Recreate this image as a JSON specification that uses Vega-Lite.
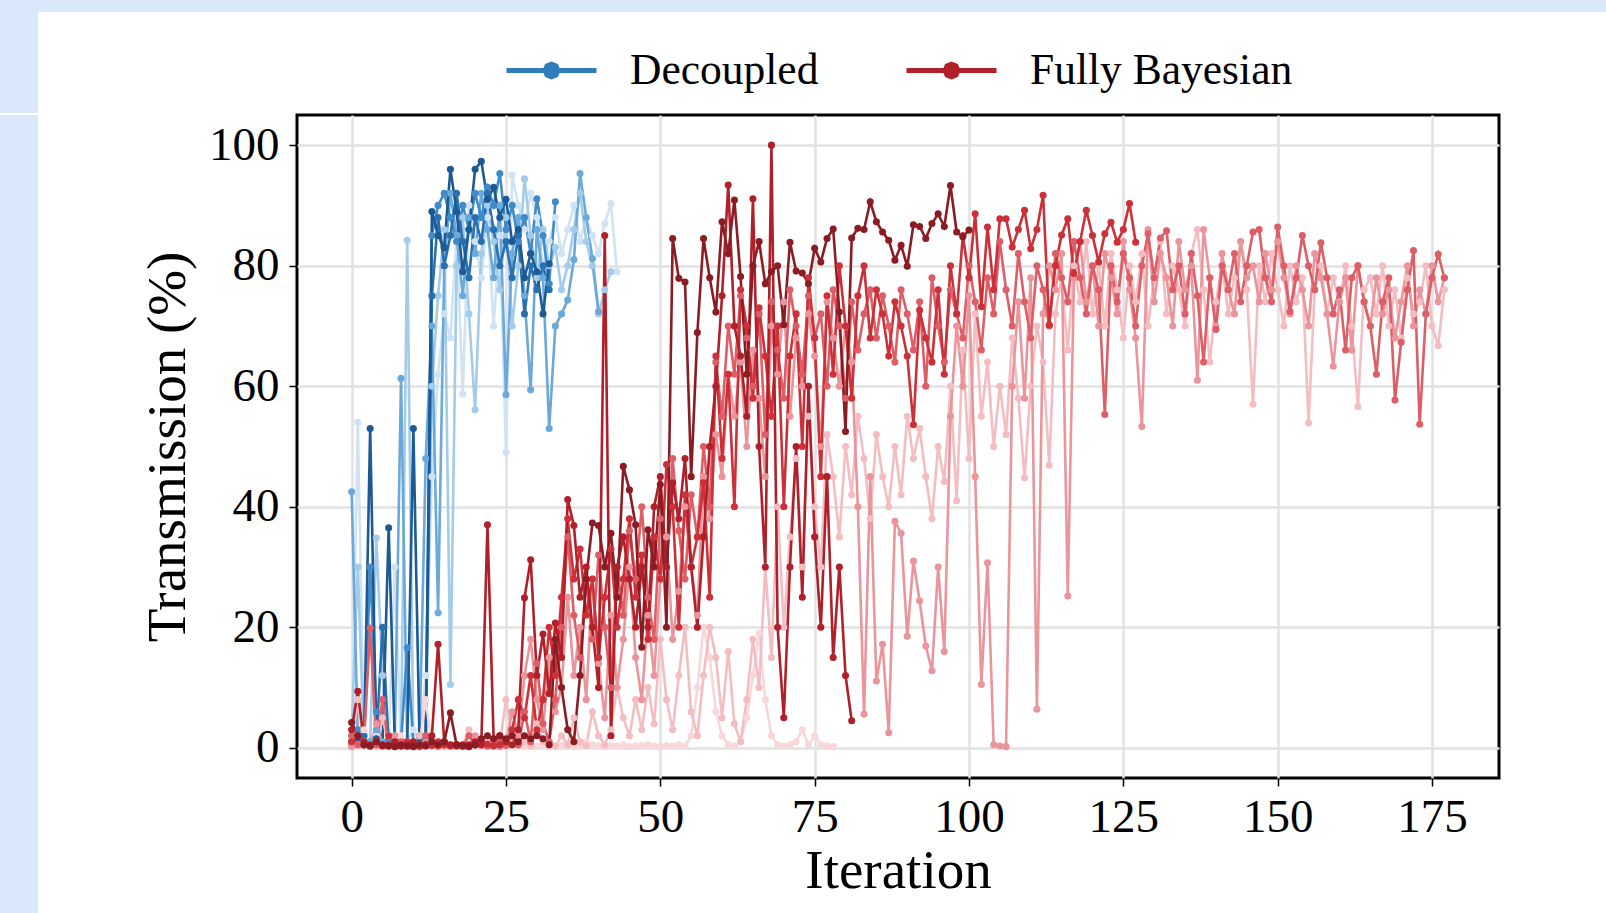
{
"$schema":"https://vega.github.io/schema/vega-lite/v6.json",
"background":"white",
"padding":0,
"autosize":{"type":"pad"},
"spacing":0,
"config":{"font":"Liberation Serif","axis":{"labelFont":"Liberation Serif","titleFont":"Liberation Serif","labelFontSize":47,"titleFontSize":55,"titleFontWeight":"normal","labelColor":"#000","titleColor":"#000","tickColor":"#000","tickWidth":1.5,"tickSize":8,"domain":false,"gridColor":"#e2e2e2","gridWidth":2.5,"labelOverlap":false,"labelFlush":false}},
"vconcat":[
{"spacing":0,"hconcat":[
{"width":38,"height":113,"data":{"values":[]},"mark":"point","view":{"fill":"#dae8fc","stroke":null}},
{"width":1568,"height":12,"data":{"values":[]},"mark":"point","view":{"fill":"#dae8fc","stroke":null}}
]},
{"spacing":101,"hconcat":[
{"width":38,"height":800,"data":{"values":[]},"mark":"point","view":{"fill":"#dae8fc","stroke":null}},
{"width":1202,"height":663,"view":{"stroke":"black","strokeWidth":3,"fill":"white"},
"data":{"values":[
{"run":"D1","it":0,"v":0.5},{"run":"D1","it":1,"v":54},{"run":"D1","it":2,"v":1},{"run":"D1","it":3,"v":0.5},{"run":"D1","it":4,"v":2},{"run":"D1","it":5,"v":0.3},{"run":"D1","it":6,"v":1},{"run":"D1","it":7,"v":30},{"run":"D1","it":8,"v":0.5},{"run":"D1","it":9,"v":1},{"run":"D1","it":10,"v":3},{"run":"D1","it":11,"v":0.5},{"run":"D1","it":12,"v":12},{"run":"D1","it":13,"v":45},{"run":"D1","it":14,"v":62},{"run":"D1","it":15,"v":72},{"run":"D1","it":16,"v":68},{"run":"D1","it":17,"v":85},{"run":"D1","it":18,"v":58.7},{"run":"D1","it":19,"v":90},{"run":"D1","it":20,"v":84},{"run":"D1","it":21,"v":78},{"run":"D1","it":22,"v":88},{"run":"D1","it":23,"v":70},{"run":"D1","it":24,"v":85},{"run":"D1","it":25,"v":49},{"run":"D1","it":26,"v":95},{"run":"D1","it":27,"v":90},{"run":"D1","it":28,"v":86},{"run":"D1","it":29,"v":92},{"run":"D1","it":30,"v":88},{"run":"D1","it":31,"v":80},{"run":"D1","it":32,"v":84},{"run":"D1","it":33,"v":88},{"run":"D1","it":34,"v":82},{"run":"D1","it":35,"v":86},{"run":"D1","it":36,"v":90},{"run":"D1","it":37,"v":84},{"run":"D1","it":38,"v":88},{"run":"D1","it":39,"v":85},{"run":"D1","it":40,"v":82},{"run":"D1","it":41,"v":87},{"run":"D1","it":42,"v":90.3},{"run":"D1","it":43,"v":79},
{"run":"D2","it":0,"v":2},{"run":"D2","it":1,"v":30},{"run":"D2","it":2,"v":0.5},{"run":"D2","it":3,"v":1},{"run":"D2","it":4,"v":34.8},{"run":"D2","it":5,"v":12},{"run":"D2","it":6,"v":2},{"run":"D2","it":7,"v":0.5},{"run":"D2","it":8,"v":1},{"run":"D2","it":9,"v":84.2},{"run":"D2","it":10,"v":0.5},{"run":"D2","it":11,"v":2},{"run":"D2","it":12,"v":1},{"run":"D2","it":13,"v":60},{"run":"D2","it":14,"v":75},{"run":"D2","it":15,"v":86},{"run":"D2","it":16,"v":10.5},{"run":"D2","it":17,"v":80},{"run":"D2","it":18,"v":88},{"run":"D2","it":19,"v":72},{"run":"D2","it":20,"v":56.1},{"run":"D2","it":21,"v":82},{"run":"D2","it":22,"v":90},{"run":"D2","it":23,"v":84},{"run":"D2","it":24,"v":76},{"run":"D2","it":25,"v":88},{"run":"D2","it":26,"v":70},{"run":"D2","it":27,"v":80},{"run":"D2","it":28,"v":94.4},{"run":"D2","it":29,"v":85},{"run":"D2","it":30,"v":78},{"run":"D2","it":31,"v":86},{"run":"D2","it":32,"v":80},{"run":"D2","it":33,"v":83},{"run":"D2","it":34,"v":76},{"run":"D2","it":35,"v":80},{"run":"D2","it":36,"v":86},{"run":"D2","it":37,"v":92},{"run":"D2","it":38,"v":84},{"run":"D2","it":39,"v":80},{"run":"D2","it":40,"v":72},{"run":"D2","it":41,"v":76},{"run":"D2","it":42,"v":79},
{"run":"D3","it":0,"v":42.5},{"run":"D3","it":1,"v":2},{"run":"D3","it":2,"v":0.5},{"run":"D3","it":3,"v":1},{"run":"D3","it":4,"v":3},{"run":"D3","it":5,"v":1},{"run":"D3","it":6,"v":0.5},{"run":"D3","it":7,"v":2},{"run":"D3","it":8,"v":61.3},{"run":"D3","it":9,"v":1},{"run":"D3","it":10,"v":0.5},{"run":"D3","it":11,"v":1},{"run":"D3","it":12,"v":48},{"run":"D3","it":13,"v":70},{"run":"D3","it":14,"v":22.4},{"run":"D3","it":15,"v":80},{"run":"D3","it":16,"v":92},{"run":"D3","it":17,"v":85},{"run":"D3","it":18,"v":75},{"run":"D3","it":19,"v":88},{"run":"D3","it":20,"v":82},{"run":"D3","it":21,"v":92},{"run":"D3","it":22,"v":86},{"run":"D3","it":23,"v":78},{"run":"D3","it":24,"v":90},{"run":"D3","it":25,"v":58.6},{"run":"D3","it":26,"v":82},{"run":"D3","it":27,"v":88},{"run":"D3","it":28,"v":75},{"run":"D3","it":29,"v":59.4},{"run":"D3","it":30,"v":86},{"run":"D3","it":31,"v":78},{"run":"D3","it":32,"v":53},{"run":"D3","it":33,"v":70},{"run":"D3","it":34,"v":72},{"run":"D3","it":35,"v":74.3},{"run":"D3","it":36,"v":81},{"run":"D3","it":37,"v":95.3},{"run":"D3","it":38,"v":88},{"run":"D3","it":39,"v":81.2},{"run":"D3","it":40,"v":72.4},
{"run":"D4","it":0,"v":1},{"run":"D4","it":1,"v":3},{"run":"D4","it":2,"v":0.5},{"run":"D4","it":3,"v":30},{"run":"D4","it":4,"v":6},{"run":"D4","it":5,"v":0.4},{"run":"D4","it":6,"v":1},{"run":"D4","it":7,"v":0.6},{"run":"D4","it":8,"v":0.8},{"run":"D4","it":9,"v":16.6},{"run":"D4","it":10,"v":0.5},{"run":"D4","it":11,"v":1},{"run":"D4","it":12,"v":2},{"run":"D4","it":13,"v":85},{"run":"D4","it":14,"v":90},{"run":"D4","it":15,"v":92},{"run":"D4","it":16,"v":88},{"run":"D4","it":17,"v":84},{"run":"D4","it":18,"v":90},{"run":"D4","it":19,"v":86},{"run":"D4","it":20,"v":92},{"run":"D4","it":21,"v":88},{"run":"D4","it":22,"v":93},{"run":"D4","it":23,"v":90},{"run":"D4","it":24,"v":95.3},{"run":"D4","it":25,"v":86},{"run":"D4","it":26,"v":90},{"run":"D4","it":27,"v":84},{"run":"D4","it":28,"v":88},{"run":"D4","it":29,"v":82},{"run":"D4","it":30,"v":91.1},{"run":"D4","it":31,"v":85},{"run":"D4","it":32,"v":77},{"run":"D4","it":33,"v":90.6},
{"run":"D5","it":0,"v":0.5},{"run":"D5","it":1,"v":1},{"run":"D5","it":2,"v":2},{"run":"D5","it":3,"v":0.5},{"run":"D5","it":4,"v":1},{"run":"D5","it":5,"v":20},{"run":"D5","it":6,"v":0.5},{"run":"D5","it":7,"v":1},{"run":"D5","it":8,"v":0.3},{"run":"D5","it":9,"v":1},{"run":"D5","it":10,"v":0.5},{"run":"D5","it":11,"v":2},{"run":"D5","it":12,"v":1},{"run":"D5","it":13,"v":75},{"run":"D5","it":14,"v":88},{"run":"D5","it":15,"v":80},{"run":"D5","it":16,"v":85},{"run":"D5","it":17,"v":92},{"run":"D5","it":18,"v":84},{"run":"D5","it":19,"v":78},{"run":"D5","it":20,"v":88},{"run":"D5","it":21,"v":84},{"run":"D5","it":22,"v":92},{"run":"D5","it":23,"v":86},{"run":"D5","it":24,"v":80},{"run":"D5","it":25,"v":84},{"run":"D5","it":26,"v":78},{"run":"D5","it":27,"v":85},{"run":"D5","it":28,"v":72},{"run":"D5","it":29,"v":80},{"run":"D5","it":30,"v":76},{"run":"D5","it":31,"v":80},{"run":"D5","it":32,"v":76},
{"run":"D6","it":0,"v":0.5},{"run":"D6","it":1,"v":1},{"run":"D6","it":2,"v":0.5},{"run":"D6","it":3,"v":53},{"run":"D6","it":4,"v":1.5},{"run":"D6","it":5,"v":0.3},{"run":"D6","it":6,"v":36.5},{"run":"D6","it":7,"v":0.5},{"run":"D6","it":8,"v":1},{"run":"D6","it":9,"v":0.4},{"run":"D6","it":10,"v":53},{"run":"D6","it":11,"v":0.8},{"run":"D6","it":12,"v":1.5},{"run":"D6","it":13,"v":89},{"run":"D6","it":14,"v":85},{"run":"D6","it":15,"v":83},{"run":"D6","it":16,"v":96},{"run":"D6","it":17,"v":89},{"run":"D6","it":18,"v":79},{"run":"D6","it":19,"v":86},{"run":"D6","it":20,"v":96},{"run":"D6","it":21,"v":97.3},{"run":"D6","it":22,"v":91},{"run":"D6","it":23,"v":93},{"run":"D6","it":24,"v":88},{"run":"D6","it":25,"v":91},{"run":"D6","it":26,"v":84},{"run":"D6","it":27,"v":86},{"run":"D6","it":28,"v":78},{"run":"D6","it":29,"v":82},{"run":"D6","it":30,"v":79},{"run":"D6","it":31,"v":72},{"run":"D6","it":32,"v":80.3},
{"run":"F1","it":0,"v":0.3},{"run":"F1","it":1,"v":0.5},{"run":"F1","it":2,"v":3},{"run":"F1","it":3,"v":0.5},{"run":"F1","it":4,"v":1},{"run":"F1","it":5,"v":0.2},{"run":"F1","it":6,"v":0.5},{"run":"F1","it":7,"v":0.3},{"run":"F1","it":8,"v":2},{"run":"F1","it":9,"v":0.4},{"run":"F1","it":10,"v":0.2},{"run":"F1","it":11,"v":0.5},{"run":"F1","it":12,"v":8},{"run":"F1","it":13,"v":0.3},{"run":"F1","it":14,"v":0.5},{"run":"F1","it":15,"v":0.2},{"run":"F1","it":16,"v":0.4},{"run":"F1","it":17,"v":0.3},{"run":"F1","it":18,"v":0.5},{"run":"F1","it":19,"v":0.2},{"run":"F1","it":20,"v":0.3},{"run":"F1","it":21,"v":0.5},{"run":"F1","it":22,"v":0.2},{"run":"F1","it":23,"v":0.4},{"run":"F1","it":24,"v":0.3},{"run":"F1","it":25,"v":0.2},{"run":"F1","it":26,"v":0.5},{"run":"F1","it":27,"v":0.3},{"run":"F1","it":28,"v":0.2},{"run":"F1","it":29,"v":0.4},{"run":"F1","it":30,"v":0.3},{"run":"F1","it":31,"v":0.5},{"run":"F1","it":32,"v":0.2},{"run":"F1","it":33,"v":0.3},{"run":"F1","it":34,"v":0.5},{"run":"F1","it":35,"v":0.4},{"run":"F1","it":36,"v":0.2},{"run":"F1","it":37,"v":0.3},{"run":"F1","it":38,"v":1},{"run":"F1","it":39,"v":0.5},{"run":"F1","it":40,"v":0.3},{"run":"F1","it":41,"v":0.2},{"run":"F1","it":42,"v":0.4},{"run":"F1","it":43,"v":0.3},{"run":"F1","it":44,"v":0.5},{"run":"F1","it":45,"v":0.2},{"run":"F1","it":46,"v":0.3},{"run":"F1","it":47,"v":0.4},{"run":"F1","it":48,"v":0.5},{"run":"F1","it":49,"v":0.3},{"run":"F1","it":50,"v":0.2},{"run":"F1","it":51,"v":0.4},{"run":"F1","it":52,"v":0.3},{"run":"F1","it":53,"v":0.5},{"run":"F1","it":54,"v":0.3},{"run":"F1","it":55,"v":2},{"run":"F1","it":56,"v":10},{"run":"F1","it":57,"v":20},{"run":"F1","it":58,"v":15},{"run":"F1","it":59,"v":6},{"run":"F1","it":60,"v":2},{"run":"F1","it":61,"v":0.5},{"run":"F1","it":62,"v":0.3},{"run":"F1","it":63,"v":1},{"run":"F1","it":64,"v":5},{"run":"F1","it":65,"v":12},{"run":"F1","it":66,"v":19},{"run":"F1","it":67,"v":8},{"run":"F1","it":68,"v":2},{"run":"F1","it":69,"v":0.5},{"run":"F1","it":70,"v":0.3},{"run":"F1","it":71,"v":0.5},{"run":"F1","it":72,"v":1},{"run":"F1","it":73,"v":3},{"run":"F1","it":74,"v":0.5},{"run":"F1","it":75,"v":2},{"run":"F1","it":76,"v":0.5},{"run":"F1","it":77,"v":0.3},{"run":"F1","it":78,"v":0.2},
{"run":"F2","it":0,"v":0.5},{"run":"F2","it":1,"v":8},{"run":"F2","it":2,"v":0.3},{"run":"F2","it":3,"v":0.5},{"run":"F2","it":4,"v":0.2},{"run":"F2","it":5,"v":5},{"run":"F2","it":6,"v":0.3},{"run":"F2","it":7,"v":0.5},{"run":"F2","it":8,"v":0.2},{"run":"F2","it":9,"v":1},{"run":"F2","it":10,"v":0.3},{"run":"F2","it":11,"v":2},{"run":"F2","it":12,"v":0.4},{"run":"F2","it":13,"v":0.5},{"run":"F2","it":14,"v":0.3},{"run":"F2","it":15,"v":0.2},{"run":"F2","it":16,"v":0.5},{"run":"F2","it":17,"v":0.3},{"run":"F2","it":18,"v":0.4},{"run":"F2","it":19,"v":3},{"run":"F2","it":20,"v":0.5},{"run":"F2","it":21,"v":0.3},{"run":"F2","it":22,"v":1},{"run":"F2","it":23,"v":0.4},{"run":"F2","it":24,"v":0.5},{"run":"F2","it":25,"v":8},{"run":"F2","it":26,"v":2},{"run":"F2","it":27,"v":0.5},{"run":"F2","it":28,"v":1},{"run":"F2","it":29,"v":0.3},{"run":"F2","it":30,"v":4},{"run":"F2","it":31,"v":1},{"run":"F2","it":32,"v":0.5},{"run":"F2","it":33,"v":0.3},{"run":"F2","it":34,"v":2},{"run":"F2","it":35,"v":0.5},{"run":"F2","it":36,"v":5},{"run":"F2","it":37,"v":1},{"run":"F2","it":38,"v":0.4},{"run":"F2","it":39,"v":6},{"run":"F2","it":40,"v":2},{"run":"F2","it":41,"v":0.5},{"run":"F2","it":42,"v":3},{"run":"F2","it":43,"v":10},{"run":"F2","it":44,"v":5},{"run":"F2","it":45,"v":2},{"run":"F2","it":46,"v":8},{"run":"F2","it":47,"v":3},{"run":"F2","it":48,"v":10},{"run":"F2","it":49,"v":4},{"run":"F2","it":50,"v":18},{"run":"F2","it":51,"v":8},{"run":"F2","it":52,"v":3},{"run":"F2","it":53,"v":12},{"run":"F2","it":54,"v":20},{"run":"F2","it":55,"v":6},{"run":"F2","it":56,"v":2},{"run":"F2","it":57,"v":12},{"run":"F2","it":58,"v":20},{"run":"F2","it":59,"v":15},{"run":"F2","it":60,"v":5},{"run":"F2","it":61,"v":16},{"run":"F2","it":62,"v":4},{"run":"F2","it":63,"v":1},{"run":"F2","it":64,"v":8},{"run":"F2","it":65,"v":18},{"run":"F2","it":66,"v":10},{"run":"F2","it":67,"v":30},{"run":"F2","it":68,"v":15},{"run":"F2","it":69,"v":40},{"run":"F2","it":70,"v":20},{"run":"F2","it":71,"v":35},{"run":"F2","it":72,"v":48},{"run":"F2","it":73,"v":30},{"run":"F2","it":74,"v":55},{"run":"F2","it":75,"v":40},{"run":"F2","it":76,"v":30},{"run":"F2","it":77,"v":52},{"run":"F2","it":78,"v":45},{"run":"F2","it":79,"v":35},{"run":"F2","it":80,"v":50},{"run":"F2","it":81,"v":42},{"run":"F2","it":82,"v":55},{"run":"F2","it":83,"v":48},{"run":"F2","it":84,"v":38},{"run":"F2","it":85,"v":52},{"run":"F2","it":86,"v":45},{"run":"F2","it":87,"v":40},{"run":"F2","it":88,"v":50},{"run":"F2","it":89,"v":42},{"run":"F2","it":90,"v":55},{"run":"F2","it":91,"v":48},{"run":"F2","it":92,"v":53},{"run":"F2","it":93,"v":45},{"run":"F2","it":94,"v":38},{"run":"F2","it":95,"v":50},{"run":"F2","it":96,"v":44.2},{"run":"F2","it":97,"v":60},{"run":"F2","it":98,"v":41},{"run":"F2","it":99,"v":66},{"run":"F2","it":100,"v":48},{"run":"F2","it":101,"v":72},{"run":"F2","it":102,"v":55},{"run":"F2","it":103,"v":64},{"run":"F2","it":104,"v":50},{"run":"F2","it":105,"v":60},{"run":"F2","it":106,"v":52},{"run":"F2","it":107,"v":68},{"run":"F2","it":108,"v":58},{"run":"F2","it":109,"v":44.8},{"run":"F2","it":110,"v":60},{"run":"F2","it":111,"v":70},{"run":"F2","it":112,"v":64},{"run":"F2","it":113,"v":46.9},{"run":"F2","it":114,"v":72},{"run":"F2","it":115,"v":78},{"run":"F2","it":116,"v":66},{"run":"F2","it":117,"v":80},{"run":"F2","it":118,"v":74},{"run":"F2","it":119,"v":84},{"run":"F2","it":120,"v":72},{"run":"F2","it":121,"v":80},{"run":"F2","it":122,"v":70},{"run":"F2","it":123,"v":82},{"run":"F2","it":124,"v":76},{"run":"F2","it":125,"v":68},{"run":"F2","it":126,"v":80},{"run":"F2","it":127,"v":74},{"run":"F2","it":128,"v":82},{"run":"F2","it":129,"v":70},{"run":"F2","it":130,"v":78},{"run":"F2","it":131,"v":84},{"run":"F2","it":132,"v":72},{"run":"F2","it":133,"v":80},{"run":"F2","it":134,"v":76},{"run":"F2","it":135,"v":70},{"run":"F2","it":136,"v":82},{"run":"F2","it":137,"v":86},{"run":"F2","it":138,"v":76},{"run":"F2","it":139,"v":64},{"run":"F2","it":140,"v":74},{"run":"F2","it":141,"v":80},{"run":"F2","it":142,"v":72},{"run":"F2","it":143,"v":78},{"run":"F2","it":144,"v":84},{"run":"F2","it":145,"v":76},{"run":"F2","it":146,"v":57},{"run":"F2","it":147,"v":80},{"run":"F2","it":148,"v":74},{"run":"F2","it":149,"v":82},{"run":"F2","it":150,"v":76},{"run":"F2","it":151,"v":70},{"run":"F2","it":152,"v":80},{"run":"F2","it":153,"v":74},{"run":"F2","it":154,"v":78},{"run":"F2","it":155,"v":53.9},{"run":"F2","it":156,"v":76},{"run":"F2","it":157,"v":80},{"run":"F2","it":158,"v":72},{"run":"F2","it":159,"v":78},{"run":"F2","it":160,"v":74},{"run":"F2","it":161,"v":80},{"run":"F2","it":162,"v":70},{"run":"F2","it":163,"v":56.6},{"run":"F2","it":164,"v":76},{"run":"F2","it":165,"v":78},{"run":"F2","it":166,"v":72},{"run":"F2","it":167,"v":80},{"run":"F2","it":168,"v":70},{"run":"F2","it":169,"v":76},{"run":"F2","it":170,"v":68},{"run":"F2","it":171,"v":78},{"run":"F2","it":172,"v":72},{"run":"F2","it":173,"v":74},{"run":"F2","it":174,"v":80},{"run":"F2","it":175,"v":70},{"run":"F2","it":176,"v":66.7},{"run":"F2","it":177,"v":76},
{"run":"F3","it":0,"v":0.2},{"run":"F3","it":1,"v":0.5},{"run":"F3","it":2,"v":1},{"run":"F3","it":3,"v":0.3},{"run":"F3","it":4,"v":4},{"run":"F3","it":5,"v":0.5},{"run":"F3","it":6,"v":0.3},{"run":"F3","it":7,"v":2},{"run":"F3","it":8,"v":0.5},{"run":"F3","it":9,"v":0.2},{"run":"F3","it":10,"v":0.4},{"run":"F3","it":11,"v":0.3},{"run":"F3","it":12,"v":1},{"run":"F3","it":13,"v":0.5},{"run":"F3","it":14,"v":0.2},{"run":"F3","it":15,"v":0.4},{"run":"F3","it":16,"v":0.3},{"run":"F3","it":17,"v":0.5},{"run":"F3","it":18,"v":0.2},{"run":"F3","it":19,"v":0.4},{"run":"F3","it":20,"v":2},{"run":"F3","it":21,"v":0.5},{"run":"F3","it":22,"v":0.3},{"run":"F3","it":23,"v":0.4},{"run":"F3","it":24,"v":0.2},{"run":"F3","it":25,"v":1},{"run":"F3","it":26,"v":6},{"run":"F3","it":27,"v":2},{"run":"F3","it":28,"v":12},{"run":"F3","it":29,"v":18},{"run":"F3","it":30,"v":8},{"run":"F3","it":31,"v":3},{"run":"F3","it":32,"v":15},{"run":"F3","it":33,"v":6},{"run":"F3","it":34,"v":10},{"run":"F3","it":35,"v":25},{"run":"F3","it":36,"v":12},{"run":"F3","it":37,"v":20},{"run":"F3","it":38,"v":8},{"run":"F3","it":39,"v":28},{"run":"F3","it":40,"v":14},{"run":"F3","it":41,"v":5},{"run":"F3","it":42,"v":22},{"run":"F3","it":43,"v":10},{"run":"F3","it":44,"v":18},{"run":"F3","it":45,"v":30},{"run":"F3","it":46,"v":15},{"run":"F3","it":47,"v":8},{"run":"F3","it":48,"v":22},{"run":"F3","it":49,"v":12},{"run":"F3","it":50,"v":28},{"run":"F3","it":51,"v":35},{"run":"F3","it":52,"v":18},{"run":"F3","it":53,"v":26},{"run":"F3","it":54,"v":40},{"run":"F3","it":55,"v":30},{"run":"F3","it":56,"v":22},{"run":"F3","it":57,"v":45},{"run":"F3","it":58,"v":38},{"run":"F3","it":59,"v":52},{"run":"F3","it":60,"v":45},{"run":"F3","it":61,"v":62},{"run":"F3","it":62,"v":55},{"run":"F3","it":63,"v":64},{"run":"F3","it":64,"v":50},{"run":"F3","it":65,"v":66},{"run":"F3","it":66,"v":58},{"run":"F3","it":67,"v":45},{"run":"F3","it":68,"v":70},{"run":"F3","it":69,"v":62},{"run":"F3","it":70,"v":74},{"run":"F3","it":71,"v":55},{"run":"F3","it":72,"v":68},{"run":"F3","it":73,"v":60},{"run":"F3","it":74,"v":72},{"run":"F3","it":75,"v":65},{"run":"F3","it":76,"v":50},{"run":"F3","it":77,"v":74},{"run":"F3","it":78,"v":68},{"run":"F3","it":79,"v":60},{"run":"F3","it":80,"v":70},{"run":"F3","it":81,"v":64},{"run":"F3","it":82,"v":40},{"run":"F3","it":83,"v":5.6},{"run":"F3","it":84,"v":45},{"run":"F3","it":85,"v":11.1},{"run":"F3","it":86,"v":17.2},{"run":"F3","it":87,"v":2.5},{"run":"F3","it":88,"v":37.6},{"run":"F3","it":89,"v":35.6},{"run":"F3","it":90,"v":18.5},{"run":"F3","it":91,"v":31},{"run":"F3","it":92,"v":24.4},{"run":"F3","it":93,"v":16.9},{"run":"F3","it":94,"v":12.8},{"run":"F3","it":95,"v":30},{"run":"F3","it":96,"v":16},{"run":"F3","it":97,"v":55},{"run":"F3","it":98,"v":70},{"run":"F3","it":99,"v":60},{"run":"F3","it":100,"v":75},{"run":"F3","it":101,"v":45},{"run":"F3","it":102,"v":10.5},{"run":"F3","it":103,"v":30.7},{"run":"F3","it":104,"v":0.5},{"run":"F3","it":105,"v":0.3},{"run":"F3","it":106,"v":0.2},{"run":"F3","it":107,"v":60},{"run":"F3","it":108,"v":74},{"run":"F3","it":109,"v":58},{"run":"F3","it":110,"v":78},{"run":"F3","it":111,"v":6.4},{"run":"F3","it":112,"v":72},{"run":"F3","it":113,"v":80},{"run":"F3","it":114,"v":76},{"run":"F3","it":115,"v":82},{"run":"F3","it":116,"v":25.2},{"run":"F3","it":117,"v":78},{"run":"F3","it":118,"v":84},{"run":"F3","it":119,"v":74},{"run":"F3","it":120,"v":80},{"run":"F3","it":121,"v":70},{"run":"F3","it":122,"v":82},{"run":"F3","it":123,"v":78},{"run":"F3","it":124,"v":72},{"run":"F3","it":125,"v":84},{"run":"F3","it":126,"v":76},{"run":"F3","it":127,"v":68},{"run":"F3","it":128,"v":53.3},{"run":"F3","it":129,"v":86},{"run":"F3","it":130,"v":74},{"run":"F3","it":131,"v":82},{"run":"F3","it":132,"v":78},{"run":"F3","it":133,"v":70},{"run":"F3","it":134,"v":84},{"run":"F3","it":135,"v":76},{"run":"F3","it":136,"v":80},{"run":"F3","it":137,"v":61},{"run":"F3","it":138,"v":86},{"run":"F3","it":139,"v":78},{"run":"F3","it":140,"v":70},{"run":"F3","it":141,"v":82},{"run":"F3","it":142,"v":76},{"run":"F3","it":143,"v":72},{"run":"F3","it":144,"v":84},{"run":"F3","it":145,"v":78},{"run":"F3","it":146,"v":80},{"run":"F3","it":147,"v":74},{"run":"F3","it":148,"v":82},{"run":"F3","it":149,"v":76},{"run":"F3","it":150,"v":84},{"run":"F3","it":151,"v":78},{"run":"F3","it":152,"v":72},{"run":"F3","it":153,"v":80},{"run":"F3","it":154,"v":76},{"run":"F3","it":155,"v":70},{"run":"F3","it":156,"v":82},{"run":"F3","it":157,"v":78},{"run":"F3","it":158,"v":72},{"run":"F3","it":159,"v":63.3},{"run":"F3","it":160,"v":74},{"run":"F3","it":161,"v":78},{"run":"F3","it":162,"v":66},{"run":"F3","it":163,"v":80},{"run":"F3","it":164,"v":74},{"run":"F3","it":165,"v":70},{"run":"F3","it":166,"v":78},{"run":"F3","it":167,"v":72},{"run":"F3","it":168,"v":76},{"run":"F3","it":169,"v":68},{"run":"F3","it":170,"v":74},{"run":"F3","it":171,"v":80},{"run":"F3","it":172,"v":70},{"run":"F3","it":173,"v":76},{"run":"F3","it":174,"v":72},{"run":"F3","it":175,"v":80},{"run":"F3","it":176,"v":74},{"run":"F3","it":177,"v":78},
{"run":"F4","it":0,"v":2},{"run":"F4","it":1,"v":0.5},{"run":"F4","it":2,"v":1},{"run":"F4","it":3,"v":19.9},{"run":"F4","it":4,"v":0.5},{"run":"F4","it":5,"v":8},{"run":"F4","it":6,"v":0.3},{"run":"F4","it":7,"v":0.5},{"run":"F4","it":8,"v":1},{"run":"F4","it":9,"v":0.3},{"run":"F4","it":10,"v":0.5},{"run":"F4","it":11,"v":0.2},{"run":"F4","it":12,"v":2},{"run":"F4","it":13,"v":0.5},{"run":"F4","it":14,"v":0.3},{"run":"F4","it":15,"v":1},{"run":"F4","it":16,"v":0.4},{"run":"F4","it":17,"v":0.5},{"run":"F4","it":18,"v":0.3},{"run":"F4","it":19,"v":2},{"run":"F4","it":20,"v":0.5},{"run":"F4","it":21,"v":1},{"run":"F4","it":22,"v":0.3},{"run":"F4","it":23,"v":0.5},{"run":"F4","it":24,"v":1},{"run":"F4","it":25,"v":0.4},{"run":"F4","it":26,"v":2},{"run":"F4","it":27,"v":0.5},{"run":"F4","it":28,"v":6},{"run":"F4","it":29,"v":1},{"run":"F4","it":30,"v":14},{"run":"F4","it":31,"v":4},{"run":"F4","it":32,"v":1},{"run":"F4","it":33,"v":8},{"run":"F4","it":34,"v":20},{"run":"F4","it":35,"v":35},{"run":"F4","it":36,"v":22},{"run":"F4","it":37,"v":15},{"run":"F4","it":38,"v":28},{"run":"F4","it":39,"v":18},{"run":"F4","it":40,"v":32},{"run":"F4","it":41,"v":20},{"run":"F4","it":42,"v":10},{"run":"F4","it":43,"v":30},{"run":"F4","it":44,"v":22},{"run":"F4","it":45,"v":36},{"run":"F4","it":46,"v":28},{"run":"F4","it":47,"v":40},{"run":"F4","it":48,"v":25},{"run":"F4","it":49,"v":18},{"run":"F4","it":50,"v":38},{"run":"F4","it":51,"v":30},{"run":"F4","it":52,"v":48},{"run":"F4","it":53,"v":36},{"run":"F4","it":54,"v":28},{"run":"F4","it":55,"v":42},{"run":"F4","it":56,"v":35},{"run":"F4","it":57,"v":50},{"run":"F4","it":58,"v":40},{"run":"F4","it":59,"v":64},{"run":"F4","it":60,"v":55},{"run":"F4","it":61,"v":70},{"run":"F4","it":62,"v":62},{"run":"F4","it":63,"v":75},{"run":"F4","it":64,"v":68},{"run":"F4","it":65,"v":60},{"run":"F4","it":66,"v":72},{"run":"F4","it":67,"v":52},{"run":"F4","it":68,"v":74},{"run":"F4","it":69,"v":66},{"run":"F4","it":70,"v":58},{"run":"F4","it":71,"v":76},{"run":"F4","it":72,"v":70},{"run":"F4","it":73,"v":62},{"run":"F4","it":74,"v":75},{"run":"F4","it":75,"v":68},{"run":"F4","it":76,"v":72},{"run":"F4","it":77,"v":60},{"run":"F4","it":78,"v":76},{"run":"F4","it":79,"v":70},{"run":"F4","it":80,"v":58},{"run":"F4","it":81,"v":74},{"run":"F4","it":82,"v":66},{"run":"F4","it":83,"v":72},{"run":"F4","it":84,"v":76},{"run":"F4","it":85,"v":68},{"run":"F4","it":86,"v":75},{"run":"F4","it":87,"v":70},{"run":"F4","it":88,"v":64},{"run":"F4","it":89,"v":76},{"run":"F4","it":90,"v":72},{"run":"F4","it":91,"v":66},{"run":"F4","it":92,"v":74},{"run":"F4","it":93,"v":60},{"run":"F4","it":94,"v":78},{"run":"F4","it":95,"v":70},{"run":"F4","it":96,"v":64},{"run":"F4","it":97,"v":76},{"run":"F4","it":98,"v":72},{"run":"F4","it":99,"v":68},{"run":"F4","it":100,"v":80},{"run":"F4","it":101,"v":74},{"run":"F4","it":102,"v":66},{"run":"F4","it":103,"v":78},{"run":"F4","it":104,"v":72},{"run":"F4","it":105,"v":84},{"run":"F4","it":106,"v":76},{"run":"F4","it":107,"v":70},{"run":"F4","it":108,"v":82},{"run":"F4","it":109,"v":74},{"run":"F4","it":110,"v":68},{"run":"F4","it":111,"v":80},{"run":"F4","it":112,"v":76},{"run":"F4","it":113,"v":70},{"run":"F4","it":114,"v":82},{"run":"F4","it":115,"v":78},{"run":"F4","it":116,"v":74},{"run":"F4","it":117,"v":84},{"run":"F4","it":118,"v":78},{"run":"F4","it":119,"v":72},{"run":"F4","it":120,"v":80},{"run":"F4","it":121,"v":76},{"run":"F4","it":122,"v":55.3},{"run":"F4","it":123,"v":80},{"run":"F4","it":124,"v":74},{"run":"F4","it":125,"v":82},{"run":"F4","it":126,"v":78},{"run":"F4","it":127,"v":70},{"run":"F4","it":128,"v":80},{"run":"F4","it":129,"v":85.3},{"run":"F4","it":130,"v":78},{"run":"F4","it":131,"v":84.6},{"run":"F4","it":132,"v":85.8},{"run":"F4","it":133,"v":76},{"run":"F4","it":134,"v":80},{"run":"F4","it":135,"v":72},{"run":"F4","it":136,"v":82},{"run":"F4","it":137,"v":75},{"run":"F4","it":138,"v":64},{"run":"F4","it":139,"v":78},{"run":"F4","it":140,"v":69.4},{"run":"F4","it":141,"v":80},{"run":"F4","it":142,"v":76},{"run":"F4","it":143,"v":82},{"run":"F4","it":144,"v":74},{"run":"F4","it":145,"v":80},{"run":"F4","it":146,"v":85.6},{"run":"F4","it":147,"v":86},{"run":"F4","it":148,"v":78},{"run":"F4","it":149,"v":74},{"run":"F4","it":150,"v":86.4},{"run":"F4","it":151,"v":80},{"run":"F4","it":152,"v":72.4},{"run":"F4","it":153,"v":78},{"run":"F4","it":154,"v":85},{"run":"F4","it":155,"v":80},{"run":"F4","it":156,"v":76},{"run":"F4","it":157,"v":83.8},{"run":"F4","it":158,"v":78},{"run":"F4","it":159,"v":72},{"run":"F4","it":160,"v":76},{"run":"F4","it":161,"v":66},{"run":"F4","it":162,"v":78},{"run":"F4","it":163,"v":80},{"run":"F4","it":164,"v":74},{"run":"F4","it":165,"v":70},{"run":"F4","it":166,"v":62},{"run":"F4","it":167,"v":74},{"run":"F4","it":168,"v":78},{"run":"F4","it":169,"v":57.7},{"run":"F4","it":170,"v":67.3},{"run":"F4","it":171,"v":76},{"run":"F4","it":172,"v":82.5},{"run":"F4","it":173,"v":53.7},{"run":"F4","it":174,"v":72},{"run":"F4","it":175,"v":78},{"run":"F4","it":176,"v":81.9},{"run":"F4","it":177,"v":78},
{"run":"F5","it":0,"v":1},{"run":"F5","it":1,"v":2},{"run":"F5","it":2,"v":0.5},{"run":"F5","it":3,"v":0.3},{"run":"F5","it":4,"v":1},{"run":"F5","it":5,"v":0.4},{"run":"F5","it":6,"v":2},{"run":"F5","it":7,"v":0.5},{"run":"F5","it":8,"v":0.3},{"run":"F5","it":9,"v":1},{"run":"F5","it":10,"v":0.5},{"run":"F5","it":11,"v":0.3},{"run":"F5","it":12,"v":0.6},{"run":"F5","it":13,"v":0.4},{"run":"F5","it":14,"v":1},{"run":"F5","it":15,"v":0.5},{"run":"F5","it":16,"v":0.3},{"run":"F5","it":17,"v":0.5},{"run":"F5","it":18,"v":0.4},{"run":"F5","it":19,"v":0.3},{"run":"F5","it":20,"v":0.5},{"run":"F5","it":21,"v":1},{"run":"F5","it":22,"v":0.6},{"run":"F5","it":23,"v":0.3},{"run":"F5","it":24,"v":0.5},{"run":"F5","it":25,"v":1},{"run":"F5","it":26,"v":3},{"run":"F5","it":27,"v":8},{"run":"F5","it":28,"v":5},{"run":"F5","it":29,"v":12},{"run":"F5","it":30,"v":3},{"run":"F5","it":31,"v":8},{"run":"F5","it":32,"v":20},{"run":"F5","it":33,"v":12},{"run":"F5","it":34,"v":25},{"run":"F5","it":35,"v":38},{"run":"F5","it":36,"v":28},{"run":"F5","it":37,"v":33},{"run":"F5","it":38,"v":22},{"run":"F5","it":39,"v":28},{"run":"F5","it":40,"v":15},{"run":"F5","it":41,"v":25},{"run":"F5","it":42,"v":33},{"run":"F5","it":43,"v":20},{"run":"F5","it":44,"v":28},{"run":"F5","it":45,"v":38},{"run":"F5","it":46,"v":25},{"run":"F5","it":47,"v":32},{"run":"F5","it":48,"v":18},{"run":"F5","it":49,"v":35},{"run":"F5","it":50,"v":28},{"run":"F5","it":51,"v":47},{"run":"F5","it":52,"v":40},{"run":"F5","it":53,"v":20},{"run":"F5","it":54,"v":42},{"run":"F5","it":55,"v":30},{"run":"F5","it":56,"v":35},{"run":"F5","it":57,"v":44},{"run":"F5","it":58,"v":25},{"run":"F5","it":59,"v":65},{"run":"F5","it":60,"v":48},{"run":"F5","it":61,"v":62},{"run":"F5","it":62,"v":40},{"run":"F5","it":63,"v":76},{"run":"F5","it":64,"v":70},{"run":"F5","it":65,"v":58},{"run":"F5","it":66,"v":73},{"run":"F5","it":67,"v":65},{"run":"F5","it":68,"v":55},{"run":"F5","it":69,"v":70},{"run":"F5","it":70,"v":40},{"run":"F5","it":71,"v":65},{"run":"F5","it":72,"v":72},{"run":"F5","it":73,"v":50},{"run":"F5","it":74,"v":78},{"run":"F5","it":75,"v":68},{"run":"F5","it":76,"v":45},{"run":"F5","it":77,"v":75},{"run":"F5","it":78,"v":62},{"run":"F5","it":79,"v":80},{"run":"F5","it":80,"v":70},{"run":"F5","it":81,"v":58},{"run":"F5","it":82,"v":75},{"run":"F5","it":83,"v":80},{"run":"F5","it":84,"v":68},{"run":"F5","it":85,"v":76},{"run":"F5","it":86,"v":72},{"run":"F5","it":87,"v":65},{"run":"F5","it":88,"v":74},{"run":"F5","it":89,"v":70},{"run":"F5","it":90,"v":65},{"run":"F5","it":91,"v":53.6},{"run":"F5","it":92,"v":72.6},{"run":"F5","it":93,"v":68},{"run":"F5","it":94,"v":64},{"run":"F5","it":95,"v":76},{"run":"F5","it":96,"v":62},{"run":"F5","it":97,"v":80},{"run":"F5","it":98,"v":72},{"run":"F5","it":99,"v":85},{"run":"F5","it":100,"v":78},{"run":"F5","it":101,"v":88.6},{"run":"F5","it":102,"v":73.2},{"run":"F5","it":103,"v":86.4},{"run":"F5","it":104,"v":76},{"run":"F5","it":105,"v":87.8},{"run":"F5","it":106,"v":87.8},{"run":"F5","it":107,"v":83.1},{"run":"F5","it":108,"v":86},{"run":"F5","it":109,"v":89.2},{"run":"F5","it":110,"v":82.8},{"run":"F5","it":111,"v":86},{"run":"F5","it":112,"v":91.7},{"run":"F5","it":113,"v":70.2},{"run":"F5","it":114,"v":80},{"run":"F5","it":115,"v":85.1},{"run":"F5","it":116,"v":87.8},{"run":"F5","it":117,"v":78.7},{"run":"F5","it":118,"v":84},{"run":"F5","it":119,"v":89.2},{"run":"F5","it":120,"v":85},{"run":"F5","it":121,"v":80.6},{"run":"F5","it":122,"v":85.3},{"run":"F5","it":123,"v":87.2},{"run":"F5","it":124,"v":83.9},{"run":"F5","it":125,"v":86},{"run":"F5","it":126,"v":90.3},{"run":"F5","it":127,"v":83.9},
{"run":"F6","it":0,"v":3},{"run":"F6","it":1,"v":9.4},{"run":"F6","it":2,"v":1},{"run":"F6","it":3,"v":0.5},{"run":"F6","it":4,"v":1},{"run":"F6","it":5,"v":0.3},{"run":"F6","it":6,"v":0.5},{"run":"F6","it":7,"v":1},{"run":"F6","it":8,"v":0.3},{"run":"F6","it":9,"v":0.5},{"run":"F6","it":10,"v":1},{"run":"F6","it":11,"v":0.5},{"run":"F6","it":12,"v":0.4},{"run":"F6","it":13,"v":2},{"run":"F6","it":14,"v":17.2},{"run":"F6","it":15,"v":1},{"run":"F6","it":16,"v":0.5},{"run":"F6","it":17,"v":0.3},{"run":"F6","it":18,"v":0.5},{"run":"F6","it":19,"v":0.5},{"run":"F6","it":20,"v":1},{"run":"F6","it":21,"v":0.5},{"run":"F6","it":22,"v":37},{"run":"F6","it":23,"v":1.5},{"run":"F6","it":24,"v":2},{"run":"F6","it":25,"v":1},{"run":"F6","it":26,"v":0.5},{"run":"F6","it":27,"v":3},{"run":"F6","it":28,"v":24.9},{"run":"F6","it":29,"v":31.2},{"run":"F6","it":30,"v":12},{"run":"F6","it":31,"v":18.9},{"run":"F6","it":32,"v":9},{"run":"F6","it":33,"v":20.7},{"run":"F6","it":34,"v":15},{"run":"F6","it":35,"v":41.2},{"run":"F6","it":36,"v":36.9},{"run":"F6","it":37,"v":25},{"run":"F6","it":38,"v":30},{"run":"F6","it":39,"v":20},{"run":"F6","it":40,"v":10},{"run":"F6","it":41,"v":85},{"run":"F6","it":42,"v":2},{"run":"F6","it":43,"v":30},{"run":"F6","it":44,"v":35},{"run":"F6","it":45,"v":28},{"run":"F6","it":46,"v":20},{"run":"F6","it":47,"v":30},{"run":"F6","it":48,"v":20},{"run":"F6","it":49,"v":40},{"run":"F6","it":50,"v":45},{"run":"F6","it":51,"v":30},{"run":"F6","it":52,"v":44},{"run":"F6","it":53,"v":38},{"run":"F6","it":54,"v":48},{"run":"F6","it":55,"v":30},{"run":"F6","it":56,"v":20},{"run":"F6","it":57,"v":35},{"run":"F6","it":58,"v":50},{"run":"F6","it":59,"v":60},{"run":"F6","it":60,"v":75},{"run":"F6","it":61,"v":93.4},{"run":"F6","it":62,"v":70},{"run":"F6","it":63,"v":65},{"run":"F6","it":64,"v":55},{"run":"F6","it":65,"v":91.1},{"run":"F6","it":66,"v":50},{"run":"F6","it":67,"v":30},{"run":"F6","it":68,"v":100},{"run":"F6","it":69,"v":20},{"run":"F6","it":70,"v":5},{"run":"F6","it":71,"v":30},{"run":"F6","it":72,"v":50},{"run":"F6","it":73,"v":25},{"run":"F6","it":74,"v":60},{"run":"F6","it":75,"v":35},{"run":"F6","it":76,"v":20},{"run":"F6","it":77,"v":45},{"run":"F6","it":78,"v":15},{"run":"F6","it":79,"v":30},{"run":"F6","it":80,"v":12},{"run":"F6","it":81,"v":4.5},
{"run":"F7","it":0,"v":4.2},{"run":"F7","it":1,"v":2},{"run":"F7","it":2,"v":0.5},{"run":"F7","it":3,"v":0.3},{"run":"F7","it":4,"v":1},{"run":"F7","it":5,"v":0.5},{"run":"F7","it":6,"v":0.3},{"run":"F7","it":7,"v":0.2},{"run":"F7","it":8,"v":0.5},{"run":"F7","it":9,"v":0.3},{"run":"F7","it":10,"v":0.2},{"run":"F7","it":11,"v":0.5},{"run":"F7","it":12,"v":0.3},{"run":"F7","it":13,"v":1},{"run":"F7","it":14,"v":0.5},{"run":"F7","it":15,"v":1},{"run":"F7","it":16,"v":5.8},{"run":"F7","it":17,"v":0.5},{"run":"F7","it":18,"v":0.3},{"run":"F7","it":19,"v":0.2},{"run":"F7","it":20,"v":0.5},{"run":"F7","it":21,"v":1.5},{"run":"F7","it":22,"v":2},{"run":"F7","it":23,"v":1.5},{"run":"F7","it":24,"v":2},{"run":"F7","it":25,"v":1.5},{"run":"F7","it":26,"v":2},{"run":"F7","it":27,"v":1},{"run":"F7","it":28,"v":2},{"run":"F7","it":29,"v":1.5},{"run":"F7","it":30,"v":2},{"run":"F7","it":31,"v":1.5},{"run":"F7","it":32,"v":0.5},{"run":"F7","it":33,"v":18},{"run":"F7","it":34,"v":10},{"run":"F7","it":35,"v":3},{"run":"F7","it":36,"v":1},{"run":"F7","it":37,"v":12},{"run":"F7","it":38,"v":28},{"run":"F7","it":39,"v":37.3},{"run":"F7","it":40,"v":36.9},{"run":"F7","it":41,"v":30},{"run":"F7","it":42,"v":35.6},{"run":"F7","it":43,"v":25},{"run":"F7","it":44,"v":46.7},{"run":"F7","it":45,"v":42.8},{"run":"F7","it":46,"v":37},{"run":"F7","it":47,"v":16.7},{"run":"F7","it":48,"v":36.2},{"run":"F7","it":49,"v":30},{"run":"F7","it":50,"v":43.7},{"run":"F7","it":51,"v":20},{"run":"F7","it":52,"v":84.5},{"run":"F7","it":53,"v":77.9},{"run":"F7","it":54,"v":77.3},{"run":"F7","it":55,"v":45},{"run":"F7","it":56,"v":68.9},{"run":"F7","it":57,"v":84.5},{"run":"F7","it":58,"v":78},{"run":"F7","it":59,"v":72.3},{"run":"F7","it":60,"v":87.3},{"run":"F7","it":61,"v":82},{"run":"F7","it":62,"v":90.9},{"run":"F7","it":63,"v":78.2},{"run":"F7","it":64,"v":62},{"run":"F7","it":65,"v":80},{"run":"F7","it":66,"v":84},{"run":"F7","it":67,"v":77},{"run":"F7","it":68,"v":79},{"run":"F7","it":69,"v":80},{"run":"F7","it":70,"v":70.2},{"run":"F7","it":71,"v":83.9},{"run":"F7","it":72,"v":79.1},{"run":"F7","it":73,"v":78.8},{"run":"F7","it":74,"v":77},{"run":"F7","it":75,"v":82.9},{"run":"F7","it":76,"v":80.6},{"run":"F7","it":77,"v":84.5},{"run":"F7","it":78,"v":86.1},{"run":"F7","it":79,"v":72.3},{"run":"F7","it":80,"v":52.5},{"run":"F7","it":81,"v":84.6},{"run":"F7","it":82,"v":86.2},{"run":"F7","it":83,"v":86},{"run":"F7","it":84,"v":90.6},{"run":"F7","it":85,"v":87.3},{"run":"F7","it":86,"v":85.6},{"run":"F7","it":87,"v":84.2},{"run":"F7","it":88,"v":80.9},{"run":"F7","it":89,"v":83.4},{"run":"F7","it":90,"v":79.9},{"run":"F7","it":91,"v":86.8},{"run":"F7","it":92,"v":86.5},{"run":"F7","it":93,"v":84.5},{"run":"F7","it":94,"v":87},{"run":"F7","it":95,"v":88.6},{"run":"F7","it":96,"v":86.5},{"run":"F7","it":97,"v":93.3},{"run":"F7","it":98,"v":85.6},{"run":"F7","it":99,"v":84.8},{"run":"F7","it":100,"v":85.9}
]},
"encoding":{
"x":{"field":"it","type":"quantitative","scale":{"domain":[-8.85,185.85],"nice":false,"zero":false},"axis":{"title":"Iteration","values":[0,25,50,75,100,125,150,175],"labelPadding":8,"titlePadding":4}},
"y":{"field":"v","type":"quantitative","scale":{"domain":[-5,105],"nice":false,"zero":false},"axis":{"title":"Transmission (%)","values":[0,20,40,60,80,100],"labelPadding":10,"titlePadding":12}}
},
"layer":[
{"mark":{"type":"line","strokeWidth":2.6,"clip":true},
 "encoding":{"color":{"field":"run","type":"nominal","scale":{"domain":["D1","D2","D3","D4","D5","D6","F1","F2","F3","F4","F5","F6","F7"],"range":["#cfe3f4","#a3cbea","#6aa9da","#3f8ac9","#2a70b0","#1b5a94","#f8d7da","#f3bdc2","#ea959c","#dd5e66","#cc3038","#b0202a","#8b1c24"]},"legend":null}}},
{"mark":{"type":"circle","size":50,"opacity":1,"clip":true},
 "encoding":{"color":{"field":"run","type":"nominal","scale":{"domain":["D1","D2","D3","D4","D5","D6","F1","F2","F3","F4","F5","F6","F7"],"range":["#cfe3f4","#a3cbea","#6aa9da","#3f8ac9","#2a70b0","#1b5a94","#f8d7da","#f3bdc2","#ea959c","#dd5e66","#cc3038","#b0202a","#8b1c24"]},"legend":null}}},
{"data":{"values":[{"m":"Decoupled"},{"m":"Fully Bayesian"}]},
 "mark":{"type":"point","filled":true,"opacity":1},
 "encoding":{
  "fill":{"field":"m","type":"nominal","scale":{"domain":["Decoupled","Fully Bayesian"],"range":["#2f7ebc","#b2202a"]},"legend":{"title":null,"orient":"none","legendX":495,"legendY":14,"direction":"horizontal","padding":9,"symbolType":"M-1,0H1M-0.14,0L-0.1,-0.1L0,-0.14L0.1,-0.1L0.14,0L0.1,0.1L0,0.14L-0.1,0.1Z","symbolSize":8100,"symbolStrokeWidth":5,"symbolOpacity":1,"labelFont":"Liberation Serif","labelFontSize":43.5,"labelColor":"#000","labelOffset":31,"labelLimit":600,"columnPadding":77}},
  "stroke":{"field":"m","type":"nominal","scale":{"domain":["Decoupled","Fully Bayesian"],"range":["#2f7ebc","#b2202a"]},"legend":{"title":null,"orient":"none","legendX":495,"legendY":14,"direction":"horizontal","padding":9,"symbolType":"M-1,0H1M-0.14,0L-0.1,-0.1L0,-0.14L0.1,-0.1L0.14,0L0.1,0.1L0,0.14L-0.1,0.1Z","symbolSize":8100,"symbolStrokeWidth":5,"symbolOpacity":1,"labelFont":"Liberation Serif","labelFontSize":43.5,"labelColor":"#000","labelOffset":31,"labelLimit":600,"columnPadding":77}}
 }}
]}
]}
]
}
